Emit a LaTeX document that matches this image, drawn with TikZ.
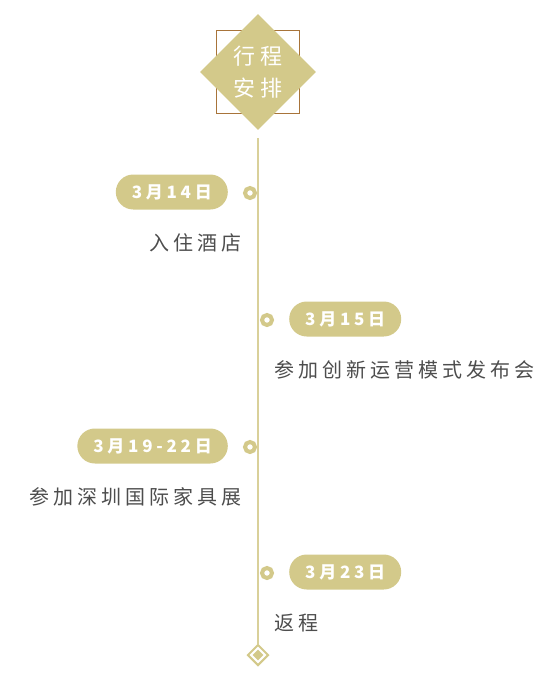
\documentclass[tikz,border=0pt]{standalone}
\usepackage{fontspec}
\setmainfont{Noto Sans CJK SC}
\newfontfamily\cjktesto[LetterSpace=20]{Noto Sans CJK SC}
\newfontfamily\cjkdata[LetterSpace=22]{Noto Sans CJK SC}
\usetikzlibrary{shapes.geometric}

\definecolor{oro}{HTML}{D3C98A}
\definecolor{orolinea}{HTML}{D9D09A}
\definecolor{bronzo}{HTML}{A8743A}
\definecolor{grigiotesto}{HTML}{4D4D4D}

\tikzset{
  quadro/.style={draw=bronzo, line width=1pt, minimum size=83pt, inner sep=0pt},
  titolo/.style={shape=diamond, fill=oro, text=white, minimum width=116pt, minimum height=116pt,
    inner sep=0pt, align=center, font=\cjktesto\fontsize{22}{32}\selectfont},
  linea/.style={draw=orolinea, line width=1.2pt},
  punto/.style={circle, draw=oro, fill=white, line width=4pt, minimum size=10pt, inner sep=0pt},
  pillola/.style={fill=oro, text=white, rounded corners=17.5pt, minimum height=35pt,
    inner xsep=16pt, inner ysep=0pt, font=\cjkdata\bfseries\fontsize{17}{19}\selectfont},
  testo/.style={text=grigiotesto, inner sep=0pt, font=\cjktesto\fontsize{20}{24}\selectfont},
  fine/.style={shape=diamond, draw=oro, fill=white, line width=2pt, minimum size=21pt, inner sep=0pt},
  finepieno/.style={shape=diamond, fill=oro, minimum size=11pt, inner sep=0pt}
}

\begin{document}
\begin{tikzpicture}[x=1pt, y=-1pt]
        % Area del disegno
        \useasboundingbox (0,0) rectangle (560,694);
        \def\xasse{258}

        % --- Titolo ---
        \node[quadro] (quadro) at (\xasse,72) {};
        \node[titolo] (titolo) at (quadro) {行程\\安排};

        % Marcatore finale
        \node[fine] (fine) at (\xasse,655) {};
        \node[finepieno] (finepieno) at (fine) {};

        % Asse verticale
        \draw[linea, shorten <=8pt] (titolo.south) -- (fine.north);

        % --- Tappe ---
        % i / y / x punto / x data / x testo / ancora / data / testo
        \foreach \i/\y/\xp/\xd/\xt/\anc/\data/\testo in {
            1/192/250/228/242/east/3月14日/入住酒店,
            2/319/267/289/274/west/3月15日/参加创新运营模式发布会,
            3/446/250/228/242/east/3月19-22日/参加深圳国际家具展,
            4/572/267/289/274/west/3月23日/返程
        }
        {
            \node[punto] (p\i) at (\xp,\y+1) {};
            \node[pillola, anchor=\anc] (d\i) at (\xd,\y) {\data};
            \node[testo, anchor=\anc] (t\i) at (\xt,\y+51) {\testo};
        }
\end{tikzpicture}
\end{document}
